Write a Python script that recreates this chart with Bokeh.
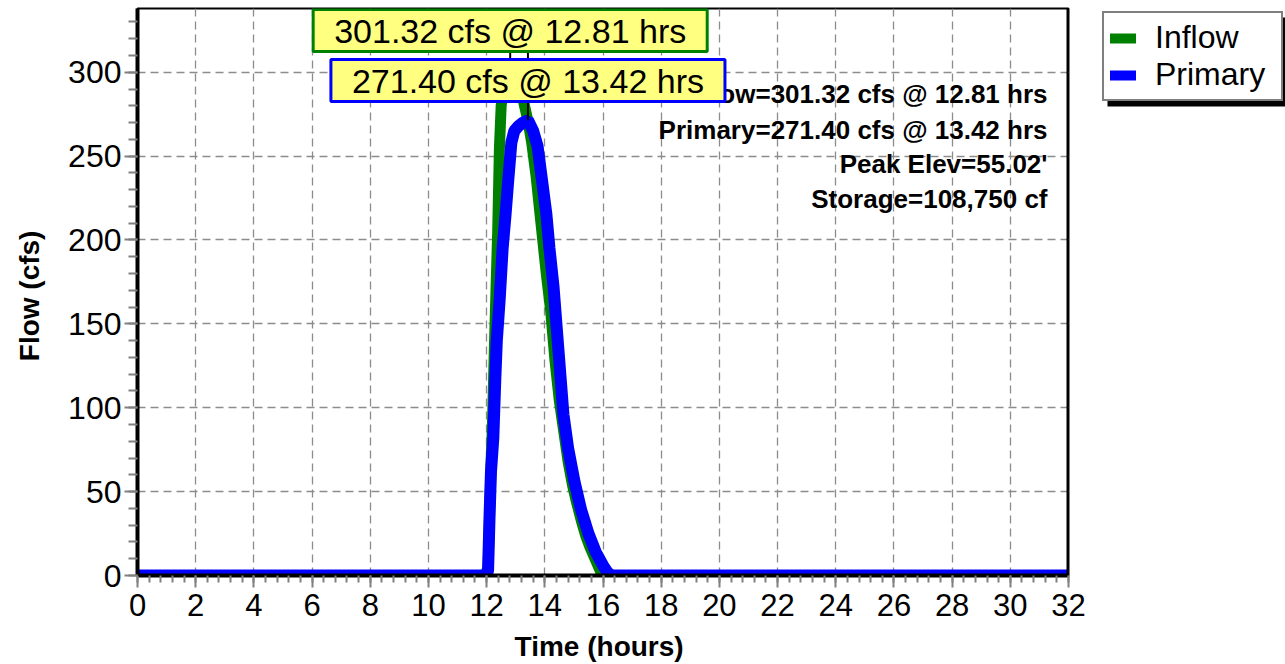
from bokeh.plotting import figure
from bokeh.layouts import row
from bokeh.models import (Range1d, SingleIntervalTicker, Legend, LegendItem, Label, Span,
                          ColumnDataSource)
from bokeh.embed import file_html
from bokeh.resources import INLINE

# ---- data ----
inflow_t = [0, 11.95, 12.05, 12.1, 12.15, 12.2, 12.27, 12.33, 12.38, 12.44, 12.5, 12.6, 12.7,
            12.81, 12.95, 13.1, 13.25, 13.42, 13.55, 13.7, 13.88, 14.05, 14.2, 14.35, 14.5,
            14.65, 14.8, 14.95, 15.1, 15.25, 15.4, 15.55, 15.7, 15.85, 15.95, 16.1, 32]
inflow_q = [0, 0, 5, 35, 65, 90, 138, 175, 205, 255, 280, 292, 298,
            301.32, 299, 293, 284, 271, 258, 238, 208, 180, 158, 128, 104,
            86, 68, 54, 43, 33, 24, 17, 11, 5, 1, 0, 0]

primary_t = [0, 11.98, 12.05, 12.1, 12.15, 12.23, 12.3, 12.35, 12.45, 12.55, 12.65, 12.74,
             12.85, 12.95, 13.1, 13.25, 13.42, 13.6, 13.75, 13.9, 14.05, 14.16, 14.3, 14.47,
             14.64, 14.8, 15.02, 15.25, 15.5, 15.75, 16.0, 16.15, 16.3, 32]
primary_q = [0, 0, 3, 35, 62, 82, 118, 140, 165, 195, 215, 235,
             258, 265, 268, 270, 271.4, 265, 256, 236, 216, 195, 172, 134,
             96, 76, 56, 39, 25, 14, 6, 2, 0, 0]

peak_t = [12.81, 13.42]
peak_q = [301.32, 271.40]
peak_labels = ["301.32 cfs @ 12.81 hrs", "271.40 cfs @ 13.42 hrs"]
series_names = ["Inflow", "Primary"]
series_colors = ["#008000", "#0000FF"]
stats_lines = ["Inflow=301.32 cfs @ 12.81 hrs", "Primary=271.40 cfs @ 13.42 hrs",
               "Peak Elev=55.02'", "Storage=108,750 cf"]
x_max, y_max = 32, 338
x_tick_step, y_tick_step = 2, 50

FONT = "Liberation Sans"

p = figure(width=1090, height=664, x_range=Range1d(0, x_max), y_range=Range1d(0, y_max),
           output_backend="svg", toolbar_location=None, title=None,
           min_border_left=137, min_border_right=22, min_border_top=8, min_border_bottom=89)
p.background_fill_color = "white"
p.border_fill_color = "white"
p.outline_line_color = "black"
p.outline_line_width = 2

# axes
p.xaxis.ticker = SingleIntervalTicker(interval=x_tick_step, num_minor_ticks=5)
p.yaxis.ticker = SingleIntervalTicker(interval=y_tick_step, num_minor_ticks=5)
for ax in (p.xaxis[0], p.yaxis[0]):
    ax.axis_line_color = "black"
    ax.axis_line_width = 4
    ax.major_tick_line_color = "#808080"
    ax.minor_tick_line_color = "#808080"
    ax.major_tick_line_width = 2
    ax.minor_tick_line_width = 2
    ax.major_tick_in = 0
    ax.minor_tick_in = 0
    ax.major_label_text_font = FONT
    ax.major_label_text_font_size = "31px"
    ax.major_label_text_color = "black"
    ax.axis_label_text_font = FONT
    ax.axis_label_text_font_style = "bold"
    ax.axis_label_text_font_size = "28px"
    ax.axis_label_text_color = "black"
p.yaxis.major_label_text_font_size = "32px"
p.yaxis.major_tick_out = 13
p.yaxis.minor_tick_out = 9
p.xaxis.major_tick_out = 12
p.xaxis.minor_tick_out = 7
p.yaxis.major_label_standoff = 3
p.xaxis.major_label_standoff = 6
p.yaxis.axis_label = "Flow  (cfs)"
p.xaxis.axis_label = "Time  (hours)"
p.yaxis.axis_label_standoff = 20
p.xaxis.axis_label_standoff = 12

# grid
for g in (p.xgrid[0], p.ygrid[0]):
    g.grid_line_color = "#8c8c8c"
    g.grid_line_dash = "8 5"
    g.grid_line_width = 1.3

# curves
r_in = p.line(inflow_t, inflow_q, line_color=series_colors[0], line_width=11)
r_pr = p.line(primary_t, primary_q, line_color=series_colors[1], line_width=12)

# leader lines from peaks up to the labels
p.segment(x0=peak_t, y0=peak_q, x1=peak_t, y1=[y_max, y_max], line_color="black", line_width=2)

# right border thicker
p.add_layout(Span(location=x_max, dimension="height", line_color="black", line_width=4))

# statistics text (drawn before boxes so boxes overlap it)
stat_y = [482, 446, 412, 377]
for txt, yy in zip(stats_lines, stat_y):
    p.add_layout(Label(x=910, y=yy, x_units="screen", y_units="screen", text=txt,
                       text_align="right", text_baseline="middle", text_font=FONT,
                       text_font_style="bold", text_font_size="26px", text_color="black"))

# peak boxes
box_y = [545, 495]
for t, txt, col, yy in zip(peak_t, peak_labels, series_colors, box_y):
    p.add_layout(Label(x=t, y=yy, y_units="screen", text=txt, text_align="center",
                       text_baseline="middle", text_font=FONT, text_font_size="34px",
                       text_color="black", background_fill_color="#FFFF80",
                       background_fill_alpha=1.0, border_line_color=col, border_line_width=3,
                       padding=dict(left=21, right=21, top=2, bottom=2)))

# ---- legend panel (frame aligned with the chart frame; 1 data unit = 1 pixel) ----
lg = figure(width=195, height=664, x_range=Range1d(0, 186), y_range=Range1d(0, 567),
            output_backend="svg", toolbar_location=None, title=None,
            x_axis_location=None, y_axis_location=None,
            min_border_left=9, min_border_top=8, min_border_right=0, min_border_bottom=89)
lg.grid.visible = False
lg.outline_line_color = None
lg.background_fill_color = "white"
lg.border_fill_color = "white"

# drop shadow of the legend box
lg.quad(left=[8], right=[186], top=[558], bottom=[469], fill_color="black", line_color=None)

swatches = []
for col in series_colors:
    src = ColumnDataSource(data=dict(x=[float("nan")], y=[float("nan")]))
    swatches.append(lg.line("x", "y", source=src, line_color=col, line_width=10, line_cap="round"))

legend = Legend(items=[LegendItem(label=n, renderers=[r]) for n, r in zip(series_names, swatches)],
                location="top_left", margin=3, padding=6, spacing=0,
                glyph_width=26, glyph_height=30, label_width=120, label_height=33,
                label_standoff=19, border_line_width=2, border_line_color="black",
                background_fill_color="white", background_fill_alpha=1.0,
                label_text_font=FONT, label_text_font_size="32px", label_text_color="black")
lg.add_layout(legend)

layout = row(p, lg, spacing=0)
open("out.html", "w").write(file_html(layout, INLINE))
